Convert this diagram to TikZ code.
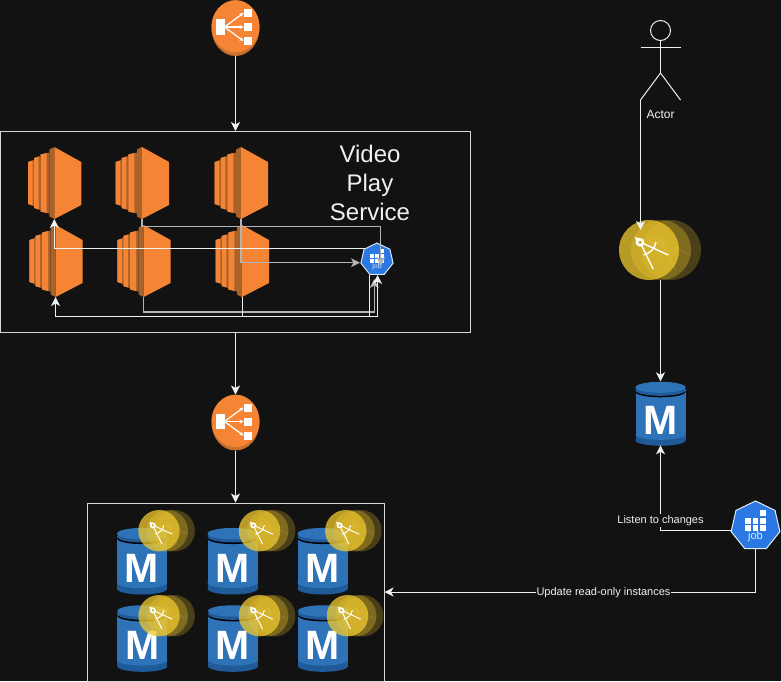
\documentclass[tikz,border=0pt]{standalone}
\usepackage{fontspec}
\setmainfont{Liberation Sans}
\usetikzlibrary{arrows.meta,shapes.geometric}
\definecolor{bgdark}{HTML}{121212}
\definecolor{awsorange}{HTML}{F58534}
\definecolor{awsmid}{HTML}{A9622A}
\definecolor{lbrim}{HTML}{C8702C}
\definecolor{dbblue}{HTML}{2E73B8}
\definecolor{dbdeep}{HTML}{205B99}
\definecolor{jobblue}{HTML}{2C78E2}
\definecolor{golden}{HTML}{F0C82D}
\definecolor{wire}{HTML}{F0F0F0}
\definecolor{wiregray}{HTML}{B4B4B4}
\tikzset{
    >={Stealth[length=9pt,width=9pt,inset=2.5pt]},
    wirelink/.style={draw=wire,line width=1pt},
    graylink/.style={draw=wiregray,line width=1.2pt},
    framebox/.style={draw=wire!90!black,line width=1pt,inner sep=0pt},
    hollow/.style={inner sep=0pt,outer sep=0pt},
    caption/.style={text=wire,font=\fontsize{11}{13}\selectfont,fill=bgdark,inner sep=1pt},
}
\newcommand{\serverstack}[2]{
    \begin{scope}[shift={(#2)}]
        \node[hollow,minimum width=54,minimum height=72] (#1) at (0,0) {};
        \foreach \xa/\xb/\xc/\yb in {-26.3/-21.6/-20.3/21,-20.3/-15.6/-13.6/25,-13.6/-7.6/-5/28.5}{
            \fill[awsmid] (\xa,-\yb) -- (\xc,-\yb-2) -- (\xc,\yb+2) -- (\xa,\yb) -- cycle;
            \fill[awsorange] (\xa,-\yb) -- (\xb,-\yb-1.5) -- (\xb,\yb+1.5) -- (\xa,\yb) -- cycle;
        }
        \fill[awsmid] (-5,-33.5) -- (0,-36) -- (0,36) -- (-5,33.5) -- cycle;
        \fill[awsorange] (0,-36) -- (27,-21) -- (27,22) -- (0,36) -- cycle;
    \end{scope}
}
\newcommand{\balancer}[2]{
    \node[hollow,ellipse,fill=lbrim,minimum width=48,minimum height=56] (#1) at (#2) {};
    \begin{scope}[shift={(#2)}]
        \fill[awsorange] (0,-1.5) ellipse (24 and 26);
        \fill[white] (-19.5,-9) rectangle (-11,6.5);
        \foreach \ya in {-15,-1,13}{
            \fill[white] (8,\ya-4) rectangle (16,\ya+4);
            \draw[white,line width=1.2pt,-{Stealth[length=4pt,width=4pt]}] (-11,-1) -- (8,\ya);
        }
    \end{scope}
}
\newcommand{\dbcylinder}[3]{
    \begin{scope}[shift={(#2)},yscale=#3]
        \node[hollow,minimum width=50,minimum height=64] (#1) at (0,0) {};
        \fill[dbdeep] (0,27) ellipse (25 and 5.5);
        \fill[dbdeep] (-25,-24) rectangle (25,27);
        \fill[dbblue] (0,21) ellipse (25 and 5.5);
        \fill[dbblue] (-25,-24) rectangle (25,21);
        \fill[black] (0,-21.5) ellipse (25 and 5.5);
        \fill[dbdeep] (0,-23) ellipse (25 and 5.5);
        \fill[dbblue] (0,-26) ellipse (25 and 5.5);
        \node[hollow,text=white,font=\fontsize{41}{41}\selectfont\bfseries] at (0,7.3) {M};
    \end{scope}
}
\newcommand{\compassmark}[3]{
    \begin{scope}[shift={(#1,0)},scale=#3,opacity=#2,line width=#3*1.4pt]
        \draw[white] (-9,-8) -- (4.3,19.3);
        \draw[white] (-9,-8) -- (19.3,5);
        \draw[white] (7,-8) .. controls (6,-1) and (1,3) .. (-5.5,5);
        \fill[white] (-9,-7.7) circle (4.4);
        \fill[white] (-14,-13) -- (-9,-11.5) -- (-12.5,-7.5) -- cycle;
        \fill[golden!85!black] (-9,-7.7) circle (1.8);
    \end{scope}
}
\newcommand{\replicaglobe}[3]{
    \begin{scope}[shift={(#2)}]
        \node[hollow,circle,minimum size=60*#3] (#1) at (0,0) {};
        \fill[golden,fill opacity=.25] (22*#3,0) circle (30*#3);
        \compassmark{22*#3}{.12}{#3}
        \fill[golden,fill opacity=.32] (12*#3,0) circle (30*#3);
        \compassmark{12*#3}{.08}{#3}
        \fill[golden,fill opacity=.75] (0,0) circle (30*#3);
        \compassmark{0}{1}{#3}
    \end{scope}
}
\newcommand{\jobbadge}[5]{
    \node[hollow,regular polygon,regular polygon sides=7,minimum size=#3,fill=jobblue,draw=#5,line width=1pt] (#1) at (#2) {};
    \begin{scope}[shift={(#2)},scale=#3/50]
        \foreach \xa/\ya in {-10.5/-8,-3/-8,4.7/-8,-10.5/-.7,-3/-.7,4.7/-.7,4.7/-16}{
            \fill[white] (\xa,\ya) rectangle +(5.5,5.5);
        }
        \node[hollow,text=#5,font=\fontsize{#4}{#4}\selectfont] at (0,11) {job};
    \end{scope}
}
\begin{document}
\begin{tikzpicture}[x=1pt,y=-1pt]
    \useasboundingbox (0,0) rectangle (781,681);
    \fill[bgdark] (0,0) rectangle (781,681);

    % service group
    \node[framebox,minimum width=470,minimum height=201] (serviceBox) at (235.5,232) {};
    \node[hollow,text=wire,align=center,font=\fontsize{24}{29}\selectfont] (serviceLabel) at (370,183) {Video\\Play\\Service};
    \foreach \name/\pos in {srvA1/{54.3,183},srvB1/{142,183},srvC1/{241,183},srvA2/{55.6,261},srvB2/{143.6,261},srvC2/{242,261}}{
        \serverstack{\name}{\pos}
    }
    \jobbadge{jobSmall}{377,259.5}{33}{7}{white!80!jobblue}

    % balancers
    \balancer{lbTop}{235.5,28}
    \balancer{lbLow}{235.5,422.5}

    % read replicas
    \node[framebox,minimum width=297,minimum height=178] (replicaBox) at (235.5,592) {};
    \foreach \name/\pos in {dbA1/{142,560.7},dbB1/{232.5,560.7},dbC1/{322.5,560.7},dbA2/{142.3,638},dbB2/{233,638},dbC2/{323,638}}{
        \dbcylinder{\name}{\pos}{1.04}
    }
    \foreach \name/\pos in {glA1/{159,530.7},glB1/{259.5,530.7},glC1/{345.8,530.7},glA2/{159,615.7},glB2/{259.5,615.7},glC2/{347.5,615.7}}{
        \replicaglobe{\name}{\pos}{.69}
    }

    % right column
    \node[hollow,circle,draw=wire,line width=1pt,minimum size=20] (actorHead) at (660.5,30.5) {};
    \coordinate (actorHip) at (660.5,73);
    \coordinate (actorLegL) at (640.5,100);
    \coordinate (actorLegR) at (680.5,100);
    \coordinate (actorArmL) at (640.5,47);
    \coordinate (actorArmR) at (680.5,47);
    \draw[wirelink] (actorHead.south) -- (actorHip);
    \draw[wirelink] (actorArmL) -- (actorArmR);
    \draw[wirelink] (actorLegL) -- (actorHip) -- (actorLegR);
    \node[hollow,text=wire,font=\fontsize{12}{14}\selectfont] (actorLabel) at (660.5,114) {Actor};
    \replicaglobe{glMain}{649,250}{1}
    \dbcylinder{dbMain}{660.5,413.3}{1}
    \jobbadge{jobBig}{755.5,526}{50}{11}{white!85!jobblue}

    % connectors
    \coordinate (glMainIn) at (640.5,230);
    \coordinate (glMainOut) at (660.5,280);
    \coordinate (jobBigOut) at (731,530.5);
    \draw[wirelink,->] (lbTop.south) -- (lbTop.south |- serviceBox.north);
    \draw[wirelink,->] (lbLow.north |- serviceBox.south) -- (lbLow.north);
    \draw[wirelink,->] (lbLow.south) -- (lbLow.south |- replicaBox.north);
    \draw[wirelink,->] (actorLegL) -- (glMainIn);
    \draw[wirelink,->] (glMainOut) -- (dbMain.north);
    \draw[wirelink,->] (jobBigOut) -| (dbMain.south);
    \draw[wirelink,->] (jobBig.south) |- (replicaBox.east);

    \coordinate (jobTurnA) at (380.7,226.7);
    \coordinate (jobInA) at (380.7,266);
    \coordinate (jobInB) at (360,262.7);
    \coordinate (jobOutA) at (365,248);
    \coordinate (jobOutB) at (369.5,275);
    \coordinate (jobTurnB) at (369.5,316.5);
    \coordinate (jobTurnC) at (374.2,312);
    \coordinate (jobInC) at (374.2,279);
    \coordinate (jobTurnD) at (377.5,316.5);
    \coordinate (jobInD) at (377.5,275);
    \draw[graylink,->] (srvB1.south) |- (jobTurnA) -- (jobInA);
    \draw[graylink,->] (srvC1.south) |- (jobInB);
    \draw[graylink,->] (srvB2.south) |- (jobTurnC) -- (jobInC);
    \draw[wirelink,->] (jobOutA) -| (srvA1.south);
    \draw[wirelink,->] (jobOutB) -- (jobTurnB) -| (srvA2.south);
    \draw[wirelink,->] (srvC2.south) |- (jobTurnD) -- (jobInD);

    \node[caption] (listenLabel) at (660.5,520.5) {Listen to changes};
    \node[caption] (updateLabel) at (603.5,593) {Update read-only instances};
\end{tikzpicture}
\end{document}
